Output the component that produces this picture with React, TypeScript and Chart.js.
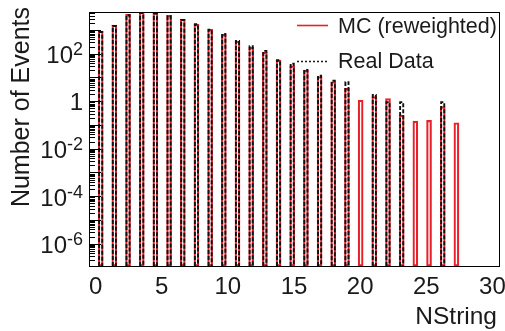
import React, { useEffect, useRef } from "react";
import { Chart, registerables } from "chart.js";

Chart.register(...registerables);

// Histogram definition: 29 bins from 0 to 30 in NString
const histLow = 0;
const histHigh = 30;
// bin contents (reweighted MC and real data)
const mcCounts = [903, 1620, 4550, 5700, 5350, 4150, 2900, 1730, 1060, 655, 340, 186, 115, 54, 31, 20.5, 10.7, 6.6, 3.5, 1.12, 1.55, 1.3, 0.26, 0.146, 0.157, 0.59, 0.124, 0, 0];
const dataCounts = [903, 1620, 4550, 5700, 5350, 4150, 2900, 1910, 1130, 745, 376, 227, 144, 58, 42, 23, 13, 8, 7, 0, 2, 1, 1, 0, 0, 1, 0, 0, 0];
const seriesLabels = ["MC (reweighted)", "Real Data"];
const xTickValues = [0, 5, 10, 15, 20, 25, 30];
const yLabelExponents = [2, 0, -2, -4, -6];
const xTitle = "NString";
const yTitle = "Number of Events";

// ROOT-like bar drawing (bar offset / width as fraction of bin)
const barOffset = 0.22;
const barWidthFrac = 0.3;

const RED = "rgb(232,32,42)";
const INK = "#1a1a1a";
const FONT = "'Liberation Sans', Arial, Helvetica, sans-serif";

const nBins = mcCounts.length;
const binWidth = (histHigh - histLow) / nBins;
const barCenter = (k: number) => histLow + (k + barOffset + barWidthFrac / 2) * binWidth;

const toPoints = (arr: number[]) =>
  arr.map((v, k) => ({ x: barCenter(k), y: v > 0 ? v : null }));

const rootPlugin = {
  id: "rootStyle",
  afterDatasetsDraw(chart: any) {
    const ctx = chart.ctx as CanvasRenderingContext2D;
    const meta = chart.getDatasetMeta(1);
    const ds = chart.data.datasets[1];
    ctx.save();
    ctx.strokeStyle = "#111";
    ctx.lineWidth = 1.9;
    ctx.setLineDash([4, 2]);
    meta.data.forEach((el: any, i: number) => {
      const p = ds.data[i];
      if (!p || p.y == null) return;
      const { x, y, base, width } = el.getProps(["x", "y", "base", "width"], true);
      const lw = ctx.lineWidth;
      const l = x - width / 2 + lw / 2;
      const r = x + width / 2 - lw / 2;
      ctx.beginPath();
      ctx.moveTo(l, base);
      ctx.lineTo(l, y + lw / 2);
      ctx.lineTo(r, y + lw / 2);
      ctx.lineTo(r, base);
      ctx.stroke();
    });
    ctx.restore();
  },
  afterDraw(chart: any) {
    const ctx = chart.ctx as CanvasRenderingContext2D;
    const { left, right, top, bottom } = chart.chartArea;
    const xs = chart.scales.x;
    const ys = chart.scales.y;
    ctx.save();
    // frame
    ctx.strokeStyle = "#000";
    ctx.lineWidth = 1;
    ctx.setLineDash([]);
    ctx.strokeRect(Math.round(left) + 0.5, Math.round(top) + 0.5, Math.round(right) - Math.round(left), Math.round(bottom) - Math.round(top));

    // y ticks (inside, ROOT style)
    ctx.beginPath();
    for (let e = -8; e <= 4; e++) {
      for (let s = 1; s <= 9; s++) {
        const v = s * Math.pow(10, e);
        if (v < ys.min || v > ys.max) continue;
        const y = Math.round(ys.getPixelForValue(v)) + 0.5;
        const len = s === 1 ? 12 : 6;
        ctx.moveTo(left, y);
        ctx.lineTo(left + len, y);
      }
    }
    ctx.stroke();

    // y labels
    ctx.fillStyle = INK;
    ctx.textAlign = "right";
    ctx.textBaseline = "alphabetic";
    const labelRight = left - 6;
    yLabelExponents.forEach((e) => {
      const ty = ys.getPixelForValue(Math.pow(10, e));
      if (e === 0) {
        ctx.font = `24px ${FONT}`;
        ctx.fillText("1", labelRight, ty + 8.5);
      } else {
        const sup = String(e);
        ctx.font = `18px ${FONT}`;
        const supW = ctx.measureText(sup).width;
        ctx.fillText(sup, labelRight, ty + 1.5);
        ctx.font = `24px ${FONT}`;
        ctx.fillText("10", labelRight - supW, ty + 9.6);
      }
    });

    // x labels
    ctx.textAlign = "center";
    ctx.font = `24px ${FONT}`;
    xTickValues.forEach((v) => {
      ctx.fillText(String(v), xs.getPixelForValue(v), bottom + 28);
    });

    // axis titles
    ctx.font = `24.5px ${FONT}`;
    ctx.textAlign = "right";
    ctx.fillText(xTitle, right - 2, bottom + 58);
    ctx.save();
    ctx.font = `25px ${FONT}`;
    ctx.translate(29, 7);
    ctx.rotate(-Math.PI / 2);
    ctx.textAlign = "right";
    ctx.fillText(yTitle, 0, 0);
    ctx.restore();

    // legend
    const lx0 = 297, lx1 = 328, tx = 338;
    const entries = [
      { label: chart.data.datasets[0].label, y: 25.5, color: RED, dash: [] as number[], base: 33 },
      { label: chart.data.datasets[1].label, y: 61.5, color: INK, dash: [2, 2], base: 68.3 },
    ];
    entries.forEach((en) => {
      ctx.beginPath();
      ctx.strokeStyle = en.color;
      ctx.lineWidth = 1.6;
      ctx.setLineDash(en.dash);
      ctx.moveTo(lx0, en.y);
      ctx.lineTo(lx1, en.y);
      ctx.stroke();
      ctx.setLineDash([]);
      ctx.fillStyle = INK;
      ctx.font = `21.5px ${FONT}`;
      ctx.textAlign = "left";
      ctx.fillText(en.label, tx, en.base);
    });
    ctx.restore();
  },
};

export default function App() {
  const canvasRef = useRef<HTMLCanvasElement | null>(null);

  useEffect(() => {
    if (!canvasRef.current) return;
    const chart = new Chart(canvasRef.current, {
      type: "bar",
      data: {
        datasets: [
          {
            label: seriesLabels[0],
            data: toPoints(mcCounts) as any,
            backgroundColor: "rgba(0,0,0,0)",
            borderColor: RED,
            borderWidth: 1.5,
            borderSkipped: false,
            barThickness: 5,
            grouped: false,
          } as any,
          {
            label: seriesLabels[1],
            data: toPoints(dataCounts) as any,
            backgroundColor: "rgba(0,0,0,0)",
            borderColor: "rgba(0,0,0,0)",
            borderWidth: 0,
            barThickness: 5,
            grouped: false,
          } as any,
        ],
      },
      options: {
        animation: false,
        responsive: false,
        maintainAspectRatio: false,
        layout: { padding: { left: 89, right: 6, top: 11.5, bottom: 65 } },
        plugins: { legend: { display: false }, tooltip: { enabled: false }, title: { display: false } },
        scales: {
          x: { type: "linear", min: -0.5, max: 30.5, offset: false, display: false },
          y: { type: "logarithmic", min: 1.15e-7, max: 6000, display: false },
        },
      },
      plugins: [rootPlugin],
    });
    return () => chart.destroy();
  }, []);

  return (
    <div style={{ position: "fixed", left: 0, top: 0, width: 505, height: 331, background: "#fff" }}>
      <canvas ref={canvasRef} width={505} height={331} style={{ display: "block" }} />
    </div>
  );
}
